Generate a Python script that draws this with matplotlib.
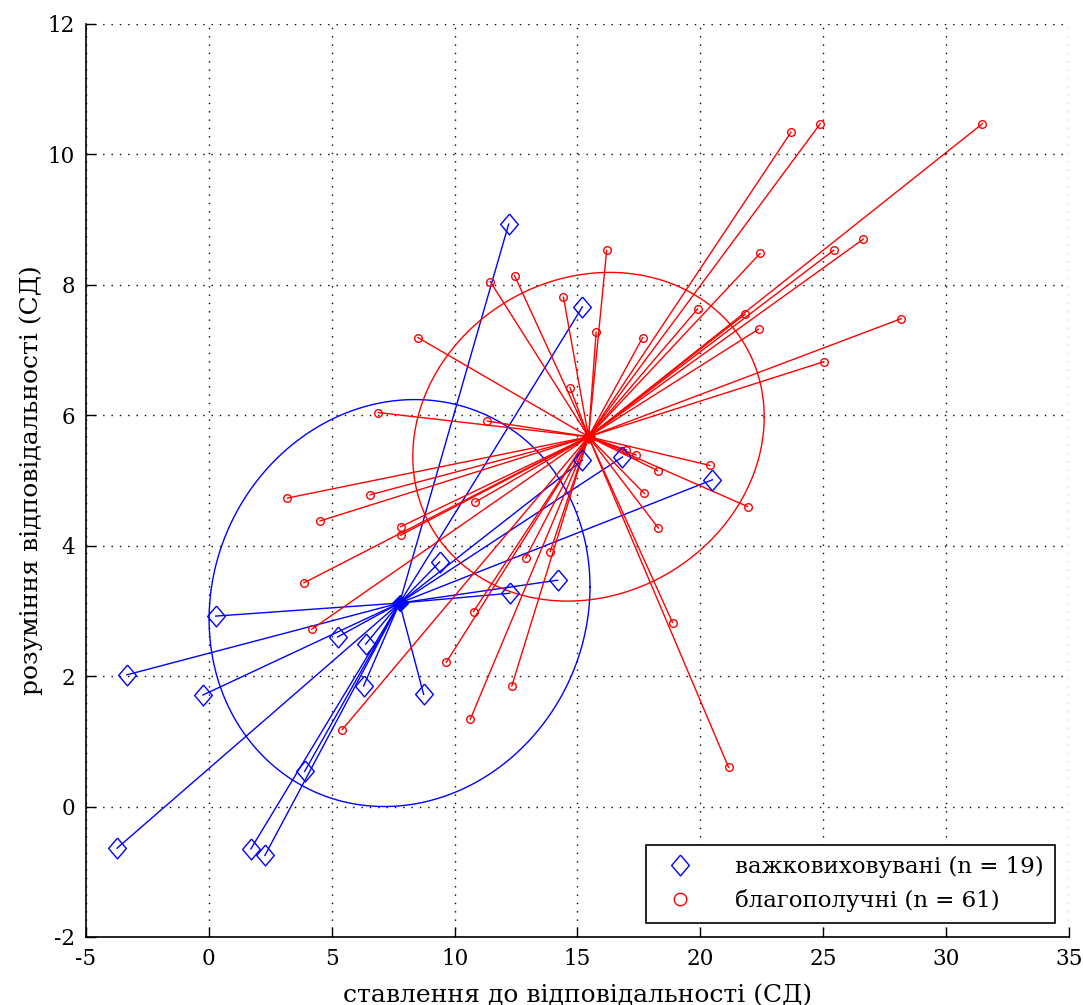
import matplotlib
matplotlib.use("Agg")
import matplotlib.pyplot as plt
from matplotlib.lines import Line2D
import numpy as np

# важковиховувані: scores (x = ставлення, y = розуміння)
blue_x = [-3.74, -3.33, -0.24, 0.28, 5.24, 6.38, 6.30, 3.90, 1.71, 2.28,
          8.74, 9.39, 12.24, 14.19, 12.20, 15.20, 15.20, 16.83, 20.49]
blue_y = [-0.64, 2.02, 1.71, 2.92, 2.60, 2.49, 1.85, 0.54, -0.65, -0.75,
          1.72, 3.75, 3.27, 3.47, 8.93, 7.66, 5.31, 5.36, 5.01]

# благополучні
red_x = [23.69, 24.88, 31.48, 16.19, 22.43, 26.63, 25.43, 19.89, 17.65, 21.82,
         22.37, 28.17, 25.02, 12.44, 11.45, 14.43, 8.51, 15.76, 14.70, 11.33,
         20.39, 16.98, 17.38, 18.26, 17.72, 21.92, 18.29, 10.85, 7.80, 7.80,
         12.89, 13.89, 10.77, 9.66, 12.33, 10.64, 18.87, 21.15, 6.90, 3.20,
         6.56, 4.53, 3.87, 4.19, 5.43]
red_y = [10.34, 10.47, 10.47, 8.53, 8.48, 8.70, 8.53, 7.63, 7.19, 7.55,
         7.32, 7.48, 6.82, 8.14, 8.05, 7.81, 7.19, 7.27, 6.42, 5.91,
         5.23, 5.47, 5.39, 5.15, 4.80, 4.60, 4.27, 4.67, 4.29, 4.16,
         3.81, 3.91, 2.99, 2.21, 1.85, 1.34, 2.82, 0.60, 6.04, 4.73,
         4.78, 4.38, 3.43, 2.72, 1.18]

# group centres and ellipse parameters (sx, sy, correlation)
blue_center = (7.76, 3.12)
red_center = (15.45, 5.67)
blue_ellipse = (7.75, 3.12, 0.08)
red_ellipse = (7.15, 2.52, 0.12)

labels = ["важковиховувані (n = 19)", "благополучні (n = 61)"]

plt.rcParams['font.family'] = ['DejaVu Serif']
plt.rcParams['font.size'] = 15
plt.rcParams['axes.unicode_minus'] = False

fig = plt.figure(figsize=(10.83, 10.05), dpi=100)
ax = fig.add_axes([0.0794, 0.0677, 0.9076, 0.9085])

diamond = [(0, 1), (0.85, 0), (0, -1), (-0.85, 0), (0, 1)]


def ellipse_xy(center, params, n=400):
    sx, sy, rho = params
    t = np.linspace(0, 2 * np.pi, n)
    ex = center[0] + sx * np.cos(t)
    ey = center[1] + sy * (rho * np.cos(t) + np.sqrt(1 - rho ** 2) * np.sin(t))
    return ex, ey


def draw_group(xs, ys, center, params, color, marker, ms):
    for x, y in zip(xs, ys):
        ax.plot([center[0], x], [center[1], y], color=color, lw=1.0, zorder=2)
    ax.plot(xs, ys, linestyle='none', marker=marker, ms=ms, mfc='none',
            mec=color, mew=1.0, zorder=3)
    ex, ey = ellipse_xy(center, params)
    ax.plot(ex, ey, color=color, lw=1.0, zorder=2)


draw_group(blue_x, blue_y, blue_center, blue_ellipse, 'blue', diamond, 15)
ax.plot(*blue_center, marker='D', ms=8, color='blue', zorder=4)
draw_group(red_x, red_y, red_center, red_ellipse, 'red', 'o', 5.5)
ax.plot(*red_center, marker='o', ms=8, color='red', zorder=4)

ax.set_xlim(-5, 35)
ax.set_ylim(-2, 12)
ax.set_xticks(np.arange(-5, 36, 5))
ax.set_yticks(np.arange(-2, 13, 2))
ax.grid(True, color='black', linestyle=(0, (1, 5)), lw=1.0)
ax.set_axisbelow(True)
for side in ['top', 'right']:
    ax.spines[side].set_visible(False)
for side in ['left', 'bottom']:
    ax.spines[side].set_linewidth(1.2)
ax.tick_params(direction='in', length=7, width=1, pad=8, labelsize=15.5)

ax.set_xlabel("ставлення до відповідальності (СД)", fontsize=18, labelpad=10)
ax.set_ylabel("розуміння відповідальності (СД)", fontsize=18, labelpad=3)

handles = [
    Line2D([], [], linestyle='none', marker=diamond, ms=15, mfc='none', mec='blue', mew=1.0),
    Line2D([], [], linestyle='none', marker='o', ms=9, mfc='none', mec='red', mew=1.0),
]
leg = ax.legend(handles, labels, loc='lower right', fancybox=False, framealpha=1,
                edgecolor='black', borderpad=0.5, handletextpad=1.4, handlelength=2.0,
                borderaxespad=0.6, labelspacing=0.45, prop={'size': 16.5})
leg.get_frame().set_linewidth(1.2)

fig.savefig("out.png", dpi=100)
